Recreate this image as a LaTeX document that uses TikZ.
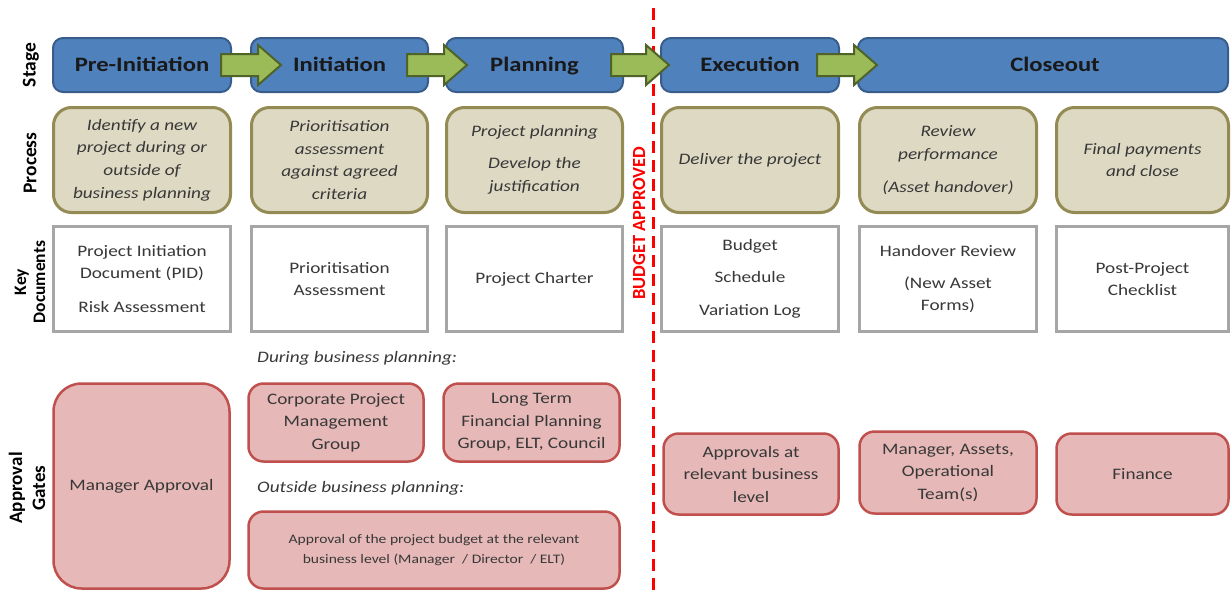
\documentclass[tikz,border=0pt]{standalone}
\usepackage{fontspec}
\setmainfont{Carlito}[FakeStretch=1.2]
\newfontfamily\rotfont{Carlito}
\usetikzlibrary{calc}
\definecolor{stagefill}{HTML}{4F81BD}
\definecolor{stagedraw}{HTML}{385D8A}
\definecolor{procfill}{HTML}{DDD9C3}
\definecolor{procdraw}{HTML}{948A54}
\definecolor{docdraw}{HTML}{A6A6A6}
\definecolor{apfill}{HTML}{E6B9B8}
\definecolor{apdraw}{HTML}{C0504D}
\definecolor{arfill}{HTML}{9BBB59}
\definecolor{ardraw}{HTML}{4F6228}
\definecolor{txt}{HTML}{383838}
\definecolor{budgetred}{HTML}{FF0000}
\tikzset{
  box/.style={inner sep=0pt, outer sep=0pt, align=center},
  stagebox/.style={box, fill=stagefill, draw=stagedraw, line width=2pt, rounded corners=10pt,
    minimum height=54pt, text height=15pt, text depth=2pt, text=black!90,
    font=\bfseries\fontsize{20.5}{24}\selectfont},
  procbox/.style={box, fill=procfill, draw=procdraw, line width=3pt, rounded corners=18pt,
    minimum height=105pt, text=txt, font=\itshape\fontsize{16}{22.7}\selectfont},
  docbox/.style={box, fill=white, draw=docdraw, line width=3pt,
    minimum height=105pt, text=txt, font=\fontsize{16}{22}\selectfont},
  apbox/.style={box, fill=apfill, draw=apdraw, line width=2.5pt, rounded corners=15pt,
    text=txt, font=\fontsize{16}{22.5}\selectfont},
  rowlabel/.style={inner sep=0pt, align=center, rotate=90, text=black,
    font=\rotfont\bfseries\fontsize{19.5}{21}\selectfont},
  sublabel/.style={inner sep=0pt, anchor=west, text=txt, font=\itshape\fontsize{16}{20}\selectfont},
  garrow/.style={fill=arfill, draw=ardraw, line width=2pt, line join=miter},
  budgetline/.style={draw=budgetred, line width=3pt, dash pattern=on 12pt off 7pt}
}
\newcommand\greenarrow[4]{%
  \path let \p1=(#1.east), \p2=(#2.west) in [garrow]
    (\x1#3,\y1+11pt) -- (\x2+#4-23pt,\y1+11pt) -- (\x2+#4-23pt,\y1+20pt) --
    (\x2+#4,\y1) -- (\x2+#4-23pt,\y1-20pt) -- (\x2+#4-23pt,\y1-11pt) --
    (\x1#3,\y1-11pt) -- cycle;}
\begin{document}
\begin{tikzpicture}[x=1pt,y=-1pt]
\useasboundingbox (0,0) rectangle (1231,592);
\fill[white] (0,0) rectangle (1231,592);

% budget approved line
\coordinate (bl1) at (653,8);
\coordinate (bl2) at (653,592);
\draw[budgetline] (bl1) -- (bl2);
\node[rotate=90, inner sep=0pt, text=budgetred, font=\rotfont\bfseries\fontsize{18.5}{20}\selectfont] (budget) at (639,223) {BUDGET APPROVED};

% row labels
\node[rowlabel] (lstage) at (31,65) {Stage};
\node[rowlabel] (lproc) at (30,163) {Process};
\node[rowlabel, font=\rotfont\bfseries\fontsize{17.5}{19}\selectfont] (ldocs) at (30,282) {Key\\Documents};
\node[rowlabel, font=\rotfont\bfseries\fontsize{19}{23}\selectfont] (lgates) at (27,488) {Approval\\Gates};

% stage row
\node[stagebox, minimum width=178pt] (pre) at (142,65) {Pre-Initiation};
\node[stagebox, minimum width=177pt] (init) at (339.5,65) {Initiation};
\node[stagebox, minimum width=177pt] (plan) at (534.5,65) {Planning};
\node[stagebox, minimum width=178pt] (exec) at (750,65) {Execution};
\node[stagebox, minimum width=370pt] (close) at (1043,65) {\hspace*{24pt}Closeout};

% arrows
\greenarrow{pre}{init}{-10pt}{30pt}
\greenarrow{init}{plan}{-21pt}{21pt}
\greenarrow{plan}{exec}{-12pt}{8pt}
\greenarrow{exec}{close}{-22pt}{19pt}

% process row
\node[procbox, minimum width=177pt] (p1) at (142,160) {Identify a new\\project during or\\outside of\\business planning};
\node[procbox, minimum width=176pt] (p2) at (339.5,160) {Prioritisation\\assessment\\against agreed\\criteria};
\node[procbox, minimum width=176pt] (p3) at (534.5,160) {Project planning\\[9pt]Develop the\\justification};
\node[procbox, minimum width=177pt] (p4) at (750,160) {Deliver the project};
\node[procbox, minimum width=177pt] (p5) at (948,160) {Review\\performance\\[10pt](Asset handover)};
\node[procbox, minimum width=172pt] (p6) at (1142.5,160) {Final payments\\and close};

% key documents row
\node[docbox, minimum width=177pt] (d1) at (142,279) {Project Initiation\\Document (PID)\\[12pt]Risk Assessment};
\node[docbox, minimum width=176pt] (d2) at (339.5,279) {Prioritisation\\Assessment};
\node[docbox, minimum width=176pt] (d3) at (534.5,279) {Project Charter};
\node[docbox, minimum width=177pt] (d4) at (750,279) {Budget\\[10pt]Schedule\\[11pt]Variation Log};
\node[docbox, minimum width=177pt] (d5) at (948,279) {Handover Review\\[10pt](New Asset\\Forms)};
\node[docbox, minimum width=172pt] (d6) at (1142.5,279) {Post-Project\\Checklist};

% approval gates
\node[sublabel] (during) at (257,358) {During business planning:};
\node[sublabel] (outside) at (257,488) {Outside business planning:};
\node[apbox, rounded corners=28pt, minimum width=176pt, minimum height=205pt] (a1) at (141.5,486) {Manager Approval};
\node[apbox, minimum width=175pt, minimum height=78pt] (a2) at (336,422.5) {Corporate Project\\Management\\Group};
\node[apbox, minimum width=176pt, minimum height=78pt] (a3) at (531.5,422.5) {Long Term\\Financial Planning\\Group, ELT, Council};
\node[apbox, minimum width=371pt, minimum height=77pt, font=\fontsize{13}{20.5}\selectfont] (a4) at (434,550) {Approval of the project budget at the relevant\\business level (Manager \ / Director \ / ELT)};
\node[apbox, minimum width=175pt, minimum height=81pt] (a5) at (751,474) {Approvals at\\relevant business\\level};
\node[apbox, minimum width=177pt, minimum height=82pt] (a6) at (948,472.5) {Manager, Assets,\\Operational\\Team(s)};
\node[apbox, minimum width=172pt, minimum height=81pt] (a7) at (1142.5,474) {Finance};
\end{tikzpicture}
\end{document}
